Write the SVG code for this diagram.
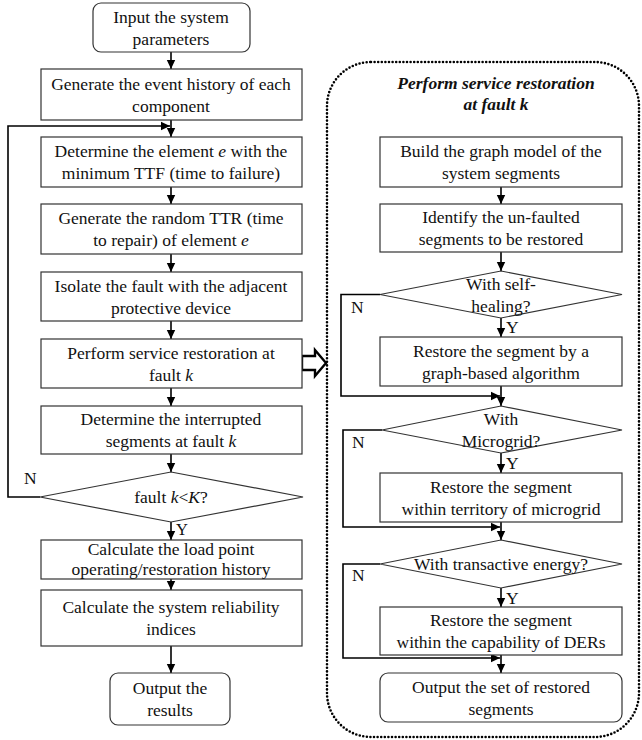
<svg xmlns="http://www.w3.org/2000/svg" width="642" height="740" viewBox="0 0 642 740" font-family="'Liberation Serif', 'Times New Roman', serif">
<style>
text{font-family:"Liberation Serif","Times New Roman",serif;font-size:17.5px;fill:#111;text-anchor:middle}
.box{fill:#fff;stroke:#333;stroke-width:1.2}
.con{fill:none;stroke:#000;stroke-width:1.6}
.it{font-style:italic}
.title{font-weight:bold;font-style:italic}
.lbl{text-anchor:start}
</style>
<defs>
<marker id="ah" markerUnits="userSpaceOnUse" markerWidth="10" markerHeight="10" refX="9" refY="5" orient="auto">
<path d="M0,0.8 L9,5 L0,9.2 z" fill="#000"/>
</marker>
</defs>
<rect id="container" x="327" y="62" width="312" height="675" rx="44" fill="none" stroke="#000" stroke-width="2.6" stroke-dasharray="0 3.6" stroke-linecap="round"/>
<text class="title" x="496" y="89">Perform service restoration</text>
<text class="title" x="496" y="110">at fault k</text>

<g id="connectors">
<line class="con" x1="171" y1="52" x2="171" y2="69" marker-end="url(#ah)"/>
<line class="con" x1="171" y1="120" x2="171" y2="137" marker-end="url(#ah)"/>
<line class="con" x1="171" y1="187" x2="171" y2="204" marker-end="url(#ah)"/>
<line class="con" x1="171" y1="254" x2="171" y2="272" marker-end="url(#ah)"/>
<line class="con" x1="171" y1="321" x2="171" y2="339" marker-end="url(#ah)"/>
<line class="con" x1="171" y1="388" x2="171" y2="406" marker-end="url(#ah)"/>
<line class="con" x1="171" y1="454" x2="171" y2="472" marker-end="url(#ah)"/>
<line class="con" x1="171" y1="522" x2="171" y2="540" marker-end="url(#ah)"/>
<line class="con" x1="171" y1="579" x2="171" y2="590" marker-end="url(#ah)"/>
<line class="con" x1="171" y1="646" x2="171" y2="673" marker-end="url(#ah)"/>
<polyline class="con" points="40,497 8,497 8,126 170,126" marker-end="url(#ah)"/>
<text class="lbl" x="24" y="484">N</text>
<text class="lbl" x="176" y="535" style="font-size:16.5px">Y</text>

<line class="con" x1="501" y1="187" x2="501" y2="204" marker-end="url(#ah)"/>
<line class="con" x1="501" y1="252" x2="501" y2="271" marker-end="url(#ah)"/>
<line class="con" x1="501" y1="318" x2="501" y2="337" marker-end="url(#ah)"/>
<line class="con" x1="501" y1="386" x2="501" y2="406" marker-end="url(#ah)"/>
<line class="con" x1="501" y1="453" x2="501" y2="473" marker-end="url(#ah)"/>
<line class="con" x1="501" y1="522" x2="501" y2="540" marker-end="url(#ah)"/>
<line class="con" x1="501" y1="588" x2="501" y2="607" marker-end="url(#ah)"/>
<line class="con" x1="501" y1="655" x2="501" y2="673" marker-end="url(#ah)"/>
<polyline class="con" points="380,294.5 341,294.5 341,396 500,396" marker-end="url(#ah)"/>
<polyline class="con" points="382,430 343,430 343,527 500,527" marker-end="url(#ah)"/>
<polyline class="con" points="380,564 343,564 343,658 500,658" marker-end="url(#ah)"/>
<text class="lbl" x="351" y="313">N</text>
<text class="lbl" x="352" y="448">N</text>
<text class="lbl" x="352" y="581">N</text>
<text class="lbl" x="506" y="333">Y</text>
<text class="lbl" x="506" y="469">Y</text>
<text class="lbl" x="506" y="604">Y</text>
<polygon points="302,356 315,356 315,350 326,363 315,376 315,370 302,370" fill="#fff" stroke="#000" stroke-width="2.4" stroke-linejoin="miter"/>
</g>

<g id="n1"><rect class="box" x="93" y="3" width="157" height="49" rx="8"/><text x="171" y="22.5">Input the system</text><text x="171" y="44.5">parameters</text></g>
<g id="n2"><rect class="box" x="41" y="69" width="261" height="51"/><text x="171" y="89.5">Generate the event history of each</text><text x="171" y="111.5">component</text></g>
<g id="n3"><rect class="box" x="41" y="137" width="261" height="50"/><text x="171" y="157">Determine the element <tspan class="it">e</tspan> with the</text><text x="171" y="179">minimum TTF (time to failure)</text></g>
<g id="n4"><rect class="box" x="41" y="204" width="261" height="50"/><text x="171" y="224">Generate the random TTR (time</text><text x="171" y="246">to repair) of element <tspan class="it">e</tspan></text></g>
<g id="n5"><rect class="box" x="41" y="272" width="261" height="49"/><text x="171" y="291.5">Isolate the fault with the adjacent</text><text x="171" y="313.5">protective device</text></g>
<g id="n6"><rect class="box" x="41" y="339" width="261" height="49"/><text x="171" y="358.5">Perform service restoration at</text><text x="171" y="380.5">fault <tspan class="it">k</tspan></text></g>
<g id="n7"><rect class="box" x="41" y="406" width="261" height="48"/><text x="171" y="425">Determine the interrupted</text><text x="171" y="447">segments at fault <tspan class="it">k</tspan></text></g>
<g id="n8"><polygon class="box" points="171,472 303,497 171,522 40,497"/><text x="171" y="503">fault <tspan class="it">k</tspan>&lt;<tspan class="it">K</tspan>?</text></g>
<g id="n9"><rect class="box" x="41" y="540" width="261" height="39"/><text x="171" y="555">Calculate the load point</text><text x="171" y="575">operating/restoration history</text></g>
<g id="n10"><rect class="box" x="41" y="590" width="261" height="56"/><text x="171" y="613">Calculate the system reliability</text><text x="171" y="635">indices</text></g>
<g id="n11"><rect class="box" x="110" y="673" width="120" height="52" rx="8"/><text x="170" y="694">Output the</text><text x="170" y="716">results</text></g>

<g id="r1"><rect class="box" x="380" y="137" width="242" height="50"/><text x="501" y="157">Build the graph model of the</text><text x="501" y="179">system segments</text></g>
<g id="r2"><rect class="box" x="380" y="204" width="242" height="48"/><text x="501" y="223">Identify the un-faulted</text><text x="501" y="245">segments to be restored</text></g>
<g id="r3"><polygon class="box" points="501,271 622,294.5 501,318 380,294.5"/><text x="501" y="289.5">With self-</text><text x="501" y="311.5">healing?</text></g>
<g id="r4"><rect class="box" x="380" y="337" width="242" height="49"/><text x="501" y="356.5">Restore the segment by a</text><text x="501" y="378.5">graph-based algorithm</text></g>
<g id="r5"><polygon class="box" points="501,406 622,430 501,453 382,430"/><text x="501" y="425">With</text><text x="501" y="447">Microgrid?</text></g>
<g id="r6"><rect class="box" x="380" y="473" width="242" height="49"/><text x="501" y="492.5">Restore the segment</text><text x="501" y="514.5">within territory of microgrid</text></g>
<g id="r7"><polygon class="box" points="501,540 622,564 501,588 380,564"/><text x="501" y="570">With transactive energy?</text></g>
<g id="r8"><rect class="box" x="380" y="607" width="242" height="48"/><text x="501" y="626">Restore the segment</text><text x="501" y="648">within the capability of DERs</text></g>
<g id="r9"><rect class="box" x="380" y="673" width="242" height="49" rx="8"/><text x="501" y="692.5">Output the set of restored</text><text x="501" y="714.5">segments</text></g>
</svg>
